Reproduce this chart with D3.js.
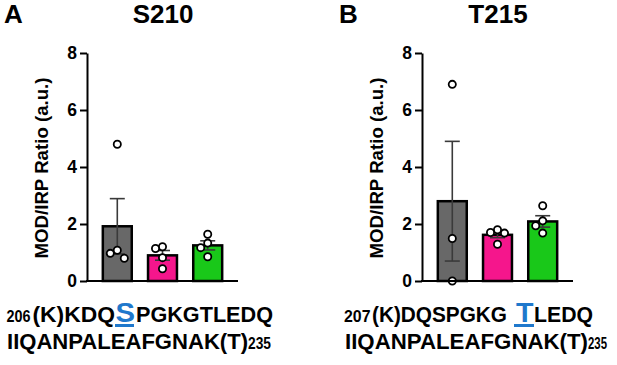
<!DOCTYPE html>
<html>
<head>
<meta charset="utf-8">
<script src="https://cdn.jsdelivr.net/npm/d3@7"></script>
<style>
  body { margin: 0; background: #fff; }
  svg text { font-family: "Liberation Sans", Arial, sans-serif; font-weight: bold; }
</style>
</head>
<body>
<svg id="chart" width="617" height="365"></svg>
<script>
// groups and colours (same for both panels)
const groups = ["ctrl", "grp2", "grp3"]
const colors = ["#686868", "#f5168c", "#19c819"]
const yTicks = [0, 2, 4, 6, 8]

// panel A, S210
const meansA = [1.92, 0.90, 1.25]
const semA = [0.97, 0.17, 0.16]
const ptsA = [[4.8, 1.08, 0.97, 0.8], [1.2, 1.14, 0.82, 0.43], [1.64, 1.33, 1.17, 0.85]]

// panel B, T215
const meansB = [2.80, 1.62, 2.09]
const semB = [2.10, 0.10, 0.20]
const ptsB = [[6.9, 1.49, 0.0], [1.8, 1.7, 1.68, 1.29], [2.64, 2.11, 1.94, 1.68]]

const svg = d3.select("#chart")

function dodge(vals, y){
    // simple beeswarm: biggest first, step sideways when a point overlaps
    let placed = []
    let order = vals.map((v,i)=>i).sort((a,b)=>vals[b]-vals[a])
    let out = new Array(vals.length).fill(0)
    order.forEach(i=>{
        let yy = y(vals[i])
        for (let dx of [0,-7,7,-14,14]){
            let hit = placed.some(p => Math.abs(p.y-yy)<8 && Math.abs(p.dx-dx)<7)
            if (!hit){ out[i]=dx; placed.push({y:yy,dx:dx}); break }
        }
    })
    return out
}

function panel(x0, letter, title, means, sem, pts){
    const g = svg.append("g")
    const w = 151
    const y = d3.scaleLinear().domain([0,8]).range([281,53])
    const x = d3.scaleBand().domain(groups).range([x0, x0+w]).paddingInner(0.36).paddingOuter(0.35)

    g.append("text").attr("x", x0-83).attr("y", 23).attr("font-size", 26).text(letter)
    g.append("text").attr("x", x0+76).attr("y", 23).attr("font-size", 26)
        .attr("text-anchor","middle").text(title)

    // bars
    g.selectAll("rect").data(means).enter().append("rect")
        .attr("x", (d,i)=>x(groups[i]))
        .attr("y", d=>y(d))
        .attr("width", x.bandwidth())
        .attr("height", d=>y(0)-y(d))
        .attr("fill", (d,i)=>colors[i])
        .attr("stroke", "#000")
        .attr("stroke-width", 2.5)

    // error bars (mean +/- sem)
    const eb = g.append("g").attr("stroke", "#3a3a3a").attr("stroke-width", 1.6)
    means.forEach((m,i)=>{
        let cx = x(groups[i]) + x.bandwidth()/2
        let lo = Math.max(0, m-sem[i]), hi = m+sem[i]
        eb.append("line").attr("x1",cx).attr("x2",cx).attr("y1",y(lo)).attr("y2",y(hi))
        eb.append("line").attr("x1",cx-7.5).attr("x2",cx+7.5).attr("y1",y(hi)).attr("y2",y(hi))
        if (m-sem[i] > 0)
            eb.append("line").attr("x1",cx-7.5).attr("x2",cx+7.5).attr("y1",y(lo)).attr("y2",y(lo))
    })

    // individual points
    pts.forEach((vals,i)=>{
        let cx = x(groups[i]) + x.bandwidth()/2
        let off = dodge(vals, y)
        g.append("g").selectAll("circle").data(vals).enter().append("circle")
            .attr("cx", (d,j)=>cx+off[j])
            .attr("cy", d=>y(d))
            .attr("r", 3.6)
            .attr("fill", "#fff")
            .attr("stroke", "#000")
            .attr("stroke-width", 1.8)
    })

    // axes
    const ya = g.append("g").attr("transform", `translate(${x0},0)`)
        .call(d3.axisLeft(y).tickValues(yTicks).tickSize(7).tickPadding(3).tickSizeOuter(0))
    ya.select(".domain").attr("stroke-width", 2)
    ya.selectAll(".tick line").attr("stroke-width", 2)
    ya.selectAll(".tick text").attr("font-size", 17.5).attr("font-family", "Liberation Sans, Arial").attr("font-weight","bold").attr("fill","#000")

    g.append("line").attr("x1", x0-1).attr("x2", x0+w).attr("y1", y(0)).attr("y2", y(0))
        .attr("stroke", "#000").attr("stroke-width", 2)

    g.append("text")
        .attr("transform", `translate(${x0-39},${(y(0)+y(8))/2+1}) rotate(-90)`)
        .attr("text-anchor", "middle").attr("font-size", 18.5)
        .attr("textLength", 181).attr("lengthAdjust", "spacingAndGlyphs")
        .text("MOD/IRP Ratio (a.u.)")
}

panel(87, "A", "S210", meansA, semA, ptsA)
panel(422, "B", "T215", meansB, semB, ptsB)

// peptide sequences under the panels: [text, x, width, size, colour]
const seqA1 = [["206", 6.5, 24, 17, "#000"], ["(K)KDQ", 32.5, 82.5, 22, "#000"], ["S", 115.5, 19.5, 28, "#1f78cc"], ["PGKGTLEDQ", 136, 137, 22, "#000"]]
const seqB1 = [["207", 344, 26.5, 17, "#000"], ["(K)DQSPGKG", 372, 135, 22, "#000"], ["T", 516, 17.5, 28, "#1f78cc"], ["LEDQ", 534, 59, 22, "#000"]]
const seqA2 = [["IIQANPALEAFGNAK(T)", 7, 241, 22, "#000"], ["235", 248, 23, 17, "#000"]]
const seqB2 = [["IIQANPALEAFGNAK(T)", 345, 243, 22, "#000"], ["235", 588, 19, 17, "#000"]]

function seq(parts, base){
    parts.forEach(p=>{
        svg.append("text").attr("x", p[1]).attr("y", base)
            .attr("textLength", p[2]).attr("lengthAdjust", "spacingAndGlyphs")
            .attr("font-size", p[3]).attr("fill", p[4]).text(p[0])
    })
}
seq(seqA1, 321.5); seq(seqB1, 321.5)
seq(seqA2, 349); seq(seqB2, 349)

// underline under the modified residue
svg.append("rect").attr("x", 115).attr("y", 324).attr("width", 19).attr("height", 3).attr("fill", "#1f78cc")
svg.append("rect").attr("x", 514).attr("y", 324).attr("width", 20).attr("height", 3).attr("fill", "#1f78cc")
</script>
</body>
</html>
